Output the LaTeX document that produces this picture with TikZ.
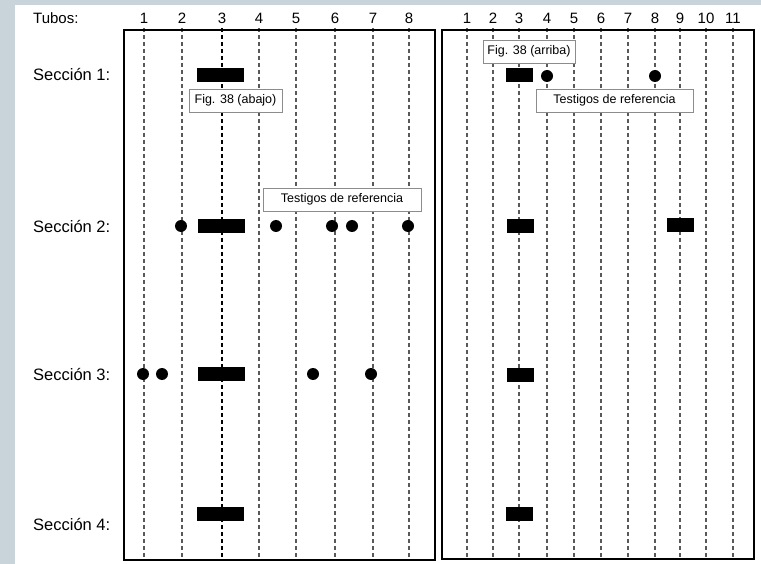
\documentclass[tikz,border=0pt]{standalone}
\usepackage{fontspec}
\setmainfont{Liberation Sans}
\usetikzlibrary{positioning}

\definecolor{pagegray}{RGB}{200,211,218}

\begin{document}
\begin{tikzpicture}[
    x=1pt, y=-1pt,
    frame/.style={draw=black, line width=1.8pt},
    tube/.style={dash pattern=on 4pt off 3pt, line width=1.1pt, color=black!65},
    tubemain/.style={tube, color=black},
    tubenum/.style={font=\fontsize{15}{16}\selectfont, inner sep=0pt},
    rowlabel/.style={font=\fontsize{16.5}{18}\selectfont, anchor=west, inner sep=0pt},
    bar/.style={rectangle, fill=black, inner sep=0pt, minimum height=14pt, minimum width=#1},
    bar/.default=47pt,
    dot/.style={circle, fill=black, inner sep=0pt, minimum size=12pt},
    tag/.style={rectangle, draw=black!45, fill=white, line width=0.8pt, font=\fontsize{12.5}{14}\selectfont, minimum height=23pt, inner sep=2pt}
]
    % background and margins
    \fill[pagegray] (0,0) rectangle (761,564);
    \fill[white] (15,5) rectangle (761,564);
    \useasboundingbox (0,0) rectangle (761,564);

    % Tube lines: left box
    \foreach \x/\n in {144/1, 182/2, 259/4, 296/5, 335/6, 373/7, 409/8} {
        \draw[tube] (\x,28) -- (\x,560);
        \node[tubenum] (lt\n) at (\x,18) {\n};
    }
    \draw[tubemain] (222,28) -- (222,560);
    \node[tubenum] (lt3) at (222,18) {3};

    % Tube lines: right box
    \foreach \x/\n in {467/1, 493/2, 519/3, 547/4, 574/5, 601/6, 628/7, 655/8, 680/9, 706/10, 733/11} {
        \draw[tube] (\x,28) -- (\x,559);
        \node[tubenum] (rt\n) at (\x,18) {\n};
    }

    % Frames
    \draw[frame] (124,30) rectangle (435,560);
    \draw[frame] (442,30) rectangle (754,559);

    % Row labels
    \node[rowlabel] (tubos) at (33,18) {\fontsize{15}{16}\selectfont Tubos:};
    \node[rowlabel] (sec1) at (33,75)  {Sección 1:};
    \node[rowlabel] (sec2) at (33,227) {Sección 2:};
    \node[rowlabel] (sec3) at (33,375) {Sección 3:};
    \node[rowlabel] (sec4) at (33,525) {Sección 4:};

    % Section 1
    \node[bar] (l1bar) at (220.5,75) {};
    \node[tag, minimum width=93pt] (abajo) at (235.5,100.5) {Fig. 38 (abajo)};
    \node[tag, minimum width=92pt] (arriba) at (529,51.5) {Fig. 38 (arriba)};
    \node[bar=27pt] (r1bar) at (519.5,75) {};
    \node[dot] (r1d4) at (547,76) {};
    \node[dot] (r1d8) at (655,76) {};
    \node[tag, minimum width=157pt] (testR) at (614.5,100.5) {Testigos de referencia};

    % Section 2
    \node[tag, minimum width=158pt] (testL) at (342,199.5) {Testigos de referencia};
    \node[dot] (l2d2) at (181,226) {};
    \node[bar] (l2bar) at (221.5,226) {};
    \node[dot] (l2da) at (276,226) {};
    \node[dot] (l2d6) at (332,226) {};
    \node[dot] (l2db) at (352,226) {};
    \node[dot] (l2d8) at (408,226) {};
    \node[bar=27pt] (r2bar) at (520.5,226) {};
    \node[bar=27pt] (r2bar9) at (680.5,225) {};

    % Section 3
    \node[dot] (l3d1) at (143,374) {};
    \node[dot] (l3da) at (162,374) {};
    \node[bar] (l3bar) at (221.5,374) {};
    \node[dot] (l3db) at (313,374) {};
    \node[dot] (l3d7) at (371,374) {};
    \node[bar=27pt] (r3bar) at (520.5,374.5) {};

    % Section 4
    \node[bar] (l4bar) at (220.5,514) {};
    \node[bar=27pt] (r4bar) at (519.5,514) {};

\end{tikzpicture}
\end{document}
